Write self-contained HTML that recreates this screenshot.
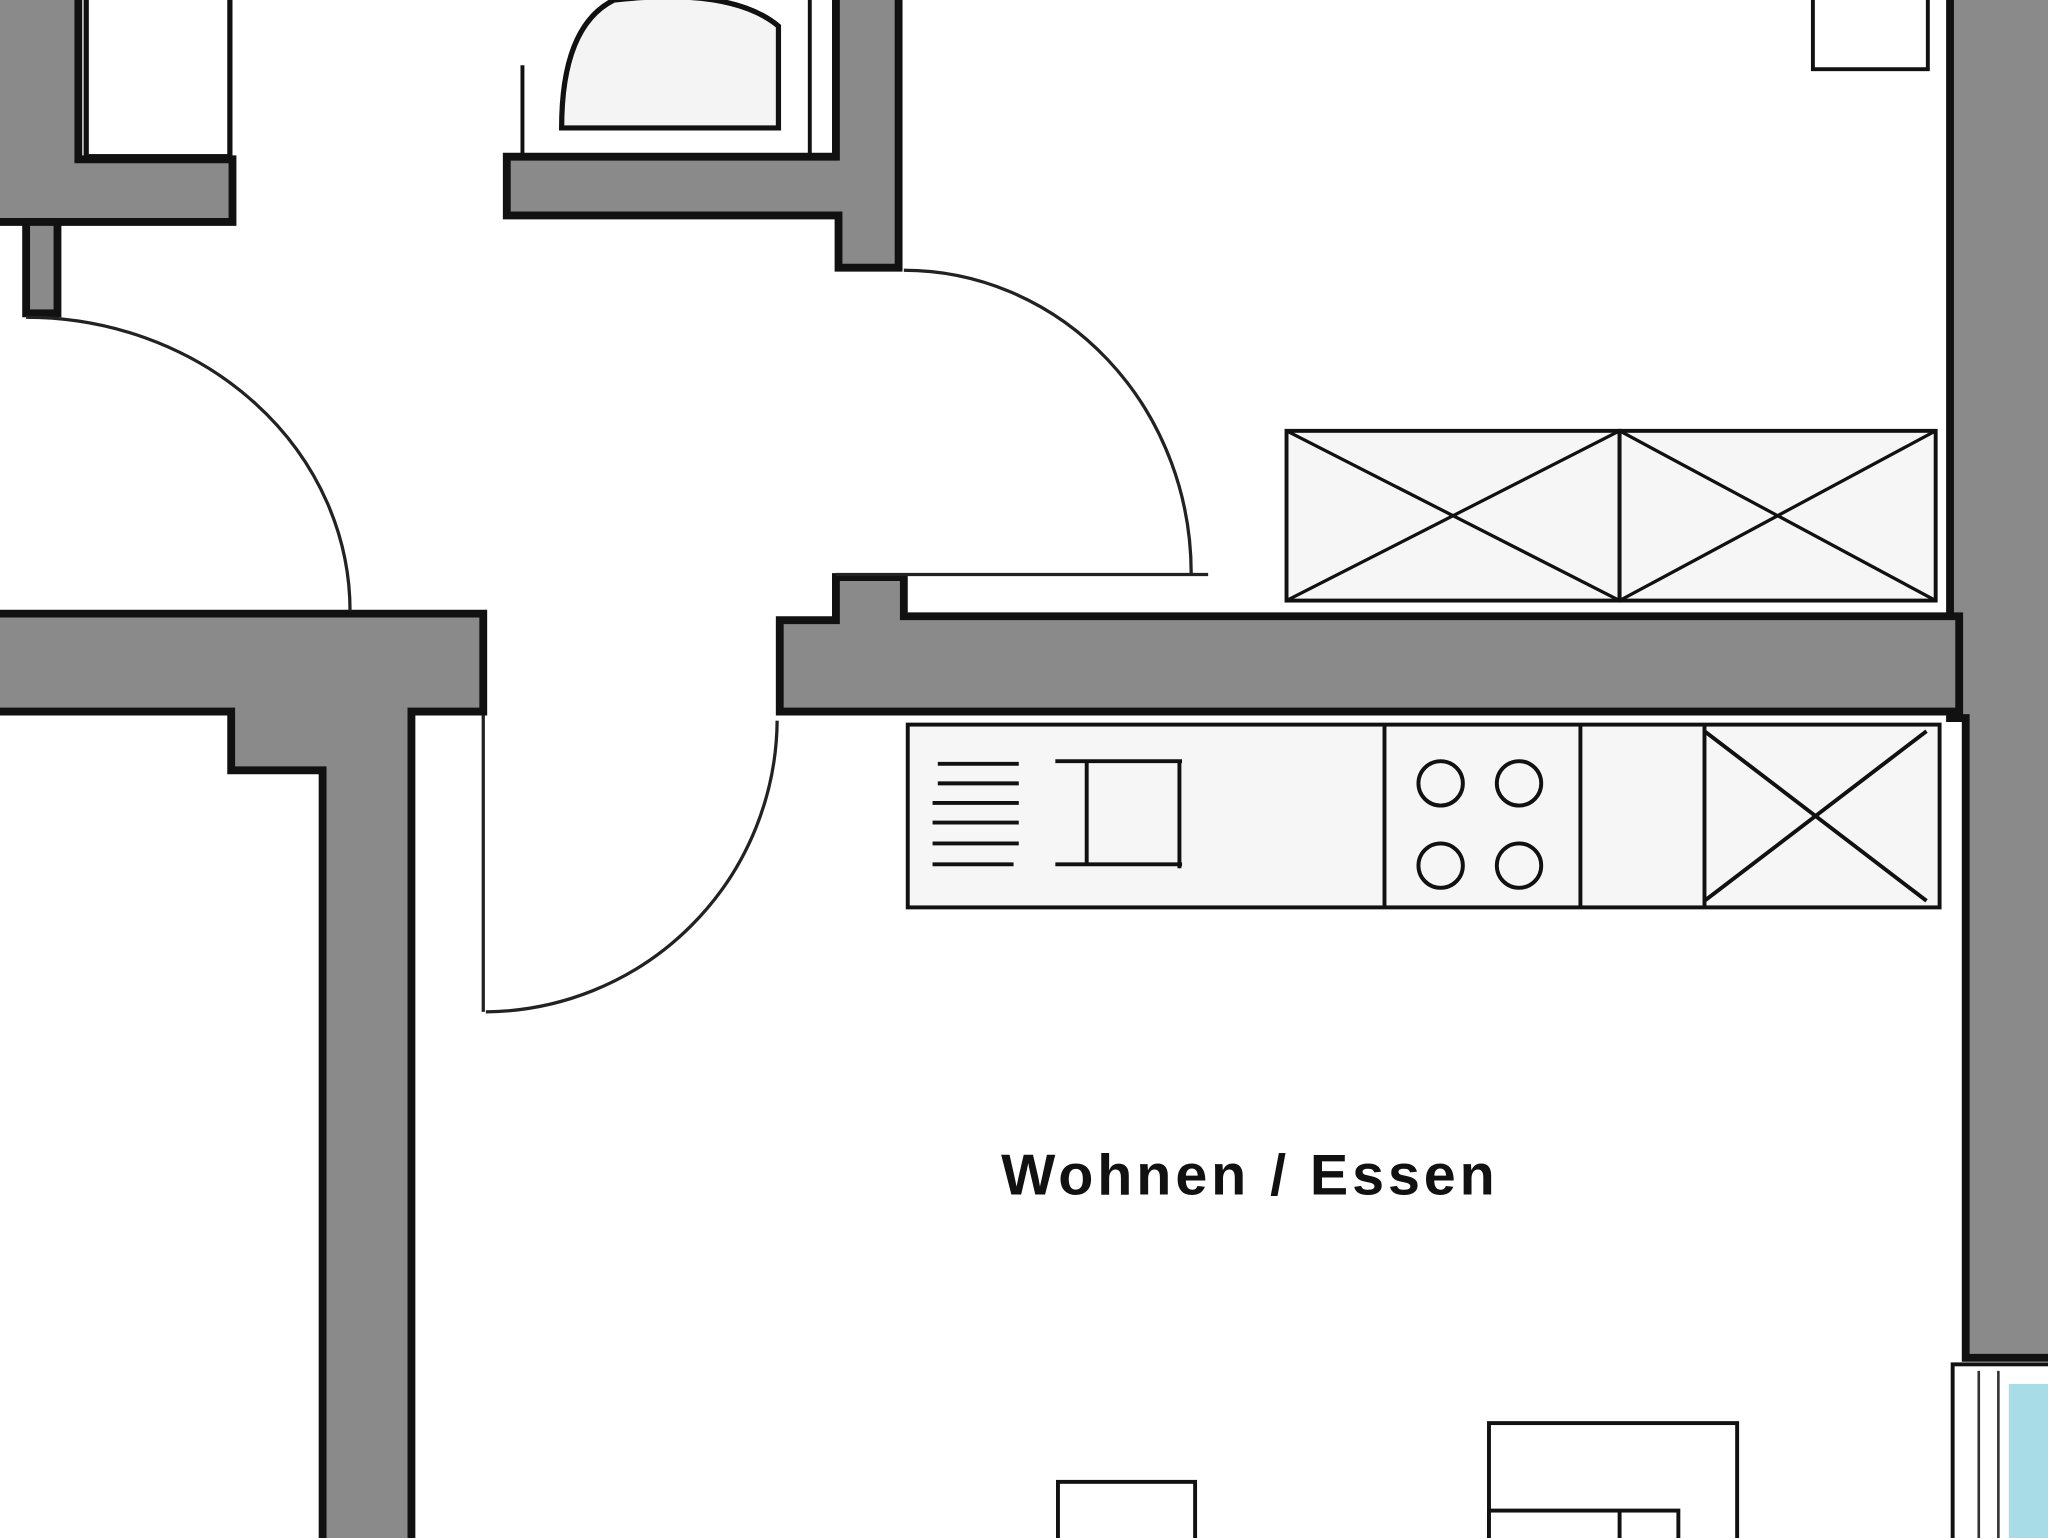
<!DOCTYPE html>
<html><head><meta charset="utf-8"><style>
html,body{margin:0;padding:0;background:#fff;width:2048px;height:1538px;overflow:hidden}
svg{display:block}
</style></head><body>
<svg width="2048" height="1538" viewBox="0 0 1568 1178" preserveAspectRatio="none" xmlns="http://www.w3.org/2000/svg">
<rect width="1568" height="1178" fill="#fff"/>
<g fill="#8a8a8a" stroke="#111" stroke-width="6">
<path d="M-5,-5 H60 V122 H178 V170 H-5 Z"/>
<rect x="20" y="170" width="24" height="70" fill="#8a8a8a"/>
<path d="M640,-5 H688 V205 H642 V165 H388 V120 H640 Z"/>
<path d="M1493,-5 H1575 V1040 H1505 V550 H1493 Z"/>
<path d="M597,475 H640 V442 H692 V472 H1500 V545 H597 Z"/>
<path d="M-5,470 H370 V545 H315 V1185 H247 V590 H177 V545 H-5 Z"/>
</g>
<rect x="66" y="-5" width="110" height="125" fill="#fff" stroke="#111" stroke-width="4"/>
<path d="M430,98 H596 V20 Q560,-10 470,0 Q430,20 430,98 Z" fill="#f4f4f4" stroke="#111" stroke-width="4"/>
<path d="M400,118 V50 M620,118 V0" stroke="#111" stroke-width="3"/>
<rect x="1388" y="-5" width="88" height="58" fill="#fff" stroke="#111" stroke-width="3"/>
<g fill="none" stroke="#222" stroke-width="2.5">
<path d="M20,243 A248,225 0 0 1 268,468"/>
<path d="M692,207 A220,232 0 0 1 912,440"/>
<path d="M640,440 H925"/>
<path d="M595,552 A225,225 0 0 1 372,775"/>
<path d="M370,548 V775"/>
</g>
<g fill="#f6f6f6" stroke="#111" stroke-width="3">
<rect x="985" y="330" width="255" height="130"/>
<rect x="1240" y="330" width="242" height="130"/>
</g>
<g stroke="#111" stroke-width="2.5">
<path d="M985,330 L1240,460 M985,460 L1240,330 M1240,330 L1482,460 M1240,460 L1482,330"/>
</g>
<rect x="695" y="555" width="790" height="140" fill="#f6f6f6" stroke="#111" stroke-width="3"/>
<g stroke="#111" stroke-width="3" fill="none">
<path d="M1060,555 V695 M1210,555 V695 M1305,555 V695"/>
<path d="M1305,560 L1475,690 M1305,690 L1475,560"/>
<path d="M718,585 H780 M718,600 H780 M714,615 H780 M714,630 H780 M714,646 H780 M714,662 H776"/>
<path d="M808,583 H905 M832,583 V662 M903,583 V665 M808,662 H905"/>
<circle cx="1103" cy="600" r="17"/><circle cx="1163" cy="600" r="17"/>
<circle cx="1103" cy="663" r="17"/><circle cx="1163" cy="663" r="17"/>
</g>
<text x="957" y="915" text-anchor="middle" font-family="Liberation Sans, sans-serif" font-weight="bold" font-size="44" letter-spacing="3" fill="#111">Wohnen / Essen</text>
<g fill="#fff" stroke="#111" stroke-width="3">
<rect x="810" y="1135" width="105" height="60"/>
<rect x="1140" y="1090" width="190" height="100"/>
<rect x="1140" y="1157" width="145" height="40"/>
<path d="M1240,1157 V1190"/>
</g>
<rect x="1495" y="1045" width="75" height="140" fill="#fff" stroke="#111" stroke-width="3"/>
<rect x="1538" y="1060" width="30" height="120" fill="#a8dde8"/>
<path d="M1515,1050 V1178 M1530,1050 V1178" stroke="#333" stroke-width="2"/>
</svg>
</body></html>
